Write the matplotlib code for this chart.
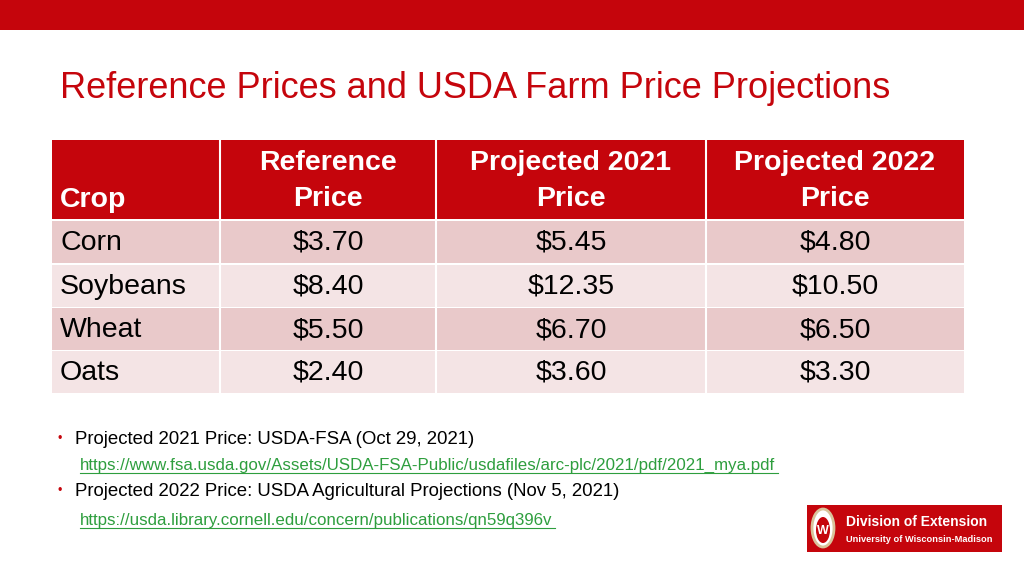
import matplotlib
matplotlib.use("Agg")
import matplotlib.pyplot as plt
from matplotlib.patches import Rectangle, Ellipse

crops = ["Corn", "Soybeans", "Wheat", "Oats"]
reference_price = ["$3.70", "$8.40", "$5.50", "$2.40"]
projected_2021 = ["$5.45", "$12.35", "$6.70", "$3.60"]
projected_2022 = ["$4.80", "$10.50", "$6.50", "$3.30"]
headers = ["Crop", "Reference\nPrice", "Projected 2021\nPrice", "Projected 2022\nPrice"]

RED = "#C5050C"
FONT = "Liberation Sans"

fig = plt.figure(figsize=(10.24, 5.76), dpi=100)
ax = fig.add_axes([0, 0, 1, 1])
ax.set_xlim(0, 1024)
ax.set_ylim(576, 0)
ax.axis("off")

ax.add_patch(Rectangle((0, 0), 1024, 30, color=RED, lw=0))
ax.text(60, 88, "Reference Prices and USDA Farm Price Projections", color=RED,
        fontsize=26, family=FONT, va="center", ha="left")

xe = [52, 220, 436, 706, 964]
ax.add_patch(Rectangle((xe[0], 140), xe[-1] - xe[0], 79, color=RED, lw=0))
for j, h in enumerate(headers):
    if j == 0:
        ax.text(xe[0] + 8, 200, h, color="white", fontsize=20.5, family=FONT,
                weight="bold", va="center", ha="left")
    else:
        ax.text((xe[j] + xe[j + 1]) / 2, 181, h, color="white", fontsize=20.5,
                family=FONT, weight="bold", va="center", ha="center", linespacing=1.45)
for j in range(1, 4):
    ax.plot([xe[j], xe[j]], [140, 219], color="white", lw=1.5)

row_tops = [221, 265, 308, 351]
row_h = 42
for i, c in enumerate(crops):
    y0 = row_tops[i]
    col = "#E9C9CA" if i % 2 == 0 else "#F4E4E5"
    ax.add_patch(Rectangle((xe[0], y0), xe[-1] - xe[0], row_h, color=col, lw=0))
    yc = y0 + row_h / 2 + 1
    vals = [c, reference_price[i], projected_2021[i], projected_2022[i]]
    for j, v in enumerate(vals):
        if j == 0:
            ax.text(xe[0] + 8, yc, v, fontsize=20.5, family=FONT, va="center", ha="left", color="black")
        else:
            ax.text((xe[j] + xe[j + 1]) / 2, yc, v, fontsize=20.5, family=FONT,
                    va="center", ha="center", color="black")
    for j in range(1, 4):
        ax.plot([xe[j], xe[j]], [y0, y0 + row_h], color="white", lw=1.5)

ax.text(58, 439, "•", color=RED, fontsize=9, family=FONT, va="center")
ax.text(75, 439, "Projected 2021 Price: USDA-FSA (Oct 29, 2021)", fontsize=13.4, family=FONT, va="center")
ax.text(80, 465, "https://www.fsa.usda.gov/Assets/USDA-FSA-Public/usdafiles/arc-plc/2021/pdf/2021_mya.pdf",
        fontsize=12.2, family=FONT, va="center", color="#2E9E3E")
ax.plot([80, 778], [473, 473], color="#2E9E3E", lw=0.8)
ax.text(58, 491, "•", color=RED, fontsize=9, family=FONT, va="center")
ax.text(75, 491, "Projected 2022 Price: USDA Agricultural Projections (Nov 5, 2021)", fontsize=13.4, family=FONT, va="center")
ax.text(80, 520, "https://usda.library.cornell.edu/concern/publications/qn59q396v",
        fontsize=12.2, family=FONT, va="center", color="#2E9E3E")
ax.plot([80, 555], [528, 528], color="#2E9E3E", lw=0.8)

# logo
ax.add_patch(Rectangle((807, 505), 195, 47, color=RED, lw=0))
ax.add_patch(Ellipse((823, 528), 22, 38, facecolor="white", edgecolor="#D9C39A", lw=2))
ax.add_patch(Ellipse((823, 530), 14, 26, facecolor=RED, edgecolor="none"))
ax.text(823, 531, "W", color="white", fontsize=9, weight="bold", family=FONT, ha="center", va="center")
ax.text(846, 522, "Division of Extension", color="white", fontsize=10, weight="bold", family=FONT, va="center")
ax.text(846, 540, "University of Wisconsin-Madison", color="white", fontsize=6.7, weight="bold", family=FONT, va="center")

fig.savefig("out.png", dpi=100)
